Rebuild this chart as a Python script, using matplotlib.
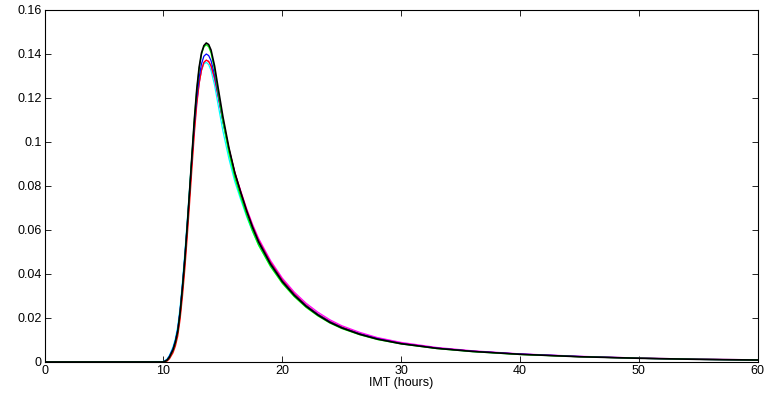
import matplotlib
matplotlib.use("Agg")
import matplotlib.pyplot as plt

x = [0, 10.0, 10.3, 10.5, 10.8, 11.0, 11.2, 11.4, 11.6, 11.8, 12.0, 12.2, 12.4, 12.6, 12.8,
     13.0, 13.2, 13.4, 13.6, 13.8, 14.0, 14.3, 14.6, 15.0, 15.5, 16.0, 16.5, 17.0, 17.5,
     18.0, 19.0, 20.0, 21.0, 22.0, 23.0, 24.0, 25.0, 26.5, 28.0, 30.0, 33.0, 36.0, 40.0,
     45.0, 50.0, 55.0, 60.0]

y_cyan = [0, 0.0002, 0.0013, 0.0030, 0.0068, 0.0106, 0.0162, 0.0250, 0.0368, 0.0500, 0.0645,
          0.0795, 0.0945, 0.1080, 0.1190, 0.1272, 0.1325, 0.1355, 0.1362, 0.1352, 0.1325,
          0.1258, 0.1168, 0.1050, 0.0925, 0.0820, 0.0738, 0.0660, 0.0592, 0.0532, 0.0437,
          0.0361, 0.0301, 0.0252, 0.0213, 0.0181, 0.0156, 0.0127, 0.0105, 0.0084, 0.0063,
          0.0048, 0.0035, 0.0024, 0.0017, 0.0012, 0.0009]
y_magenta = [0, 0, 0.0009, 0.0024, 0.0058, 0.0093, 0.0145, 0.0230, 0.0345, 0.0473, 0.0617,
             0.0768, 0.0920, 0.1063, 0.1180, 0.1268, 0.1328, 0.1362, 0.1372, 0.1367, 0.1346,
             0.1287, 0.1205, 0.1092, 0.0968, 0.0862, 0.0778, 0.0697, 0.0625, 0.0562, 0.0462,
             0.0381, 0.0318, 0.0267, 0.0226, 0.0192, 0.0165, 0.0135, 0.0111, 0.0089, 0.0066,
             0.0051, 0.0037, 0.0026, 0.0018, 0.0013, 0.0010]
y_red = [0, 0, 0.0004, 0.0014, 0.0042, 0.0072, 0.0118, 0.0195, 0.0300, 0.0425, 0.0570,
         0.0725, 0.0885, 0.1040, 0.1170, 0.1265, 0.1328, 0.1362, 0.1372, 0.1366, 0.1346,
         0.1290, 0.1210, 0.1098, 0.0972, 0.0862, 0.0775, 0.0692, 0.0618, 0.0554, 0.0454,
         0.0373, 0.0310, 0.0259, 0.0218, 0.0185, 0.0159, 0.0129, 0.0106, 0.0085, 0.0063,
         0.0049, 0.0035, 0.0024, 0.0017, 0.0012, 0.0009]
y_blue = [0, 0.0001, 0.0011, 0.0027, 0.0062, 0.0098, 0.0150, 0.0236, 0.0352, 0.0482, 0.0628,
          0.0782, 0.0938, 0.1085, 0.1205, 0.1295, 0.1356, 0.1390, 0.1400, 0.1393, 0.1370,
          0.1305, 0.1215, 0.1095, 0.0965, 0.0855, 0.0768, 0.0685, 0.0612, 0.0548, 0.0448,
          0.0368, 0.0306, 0.0256, 0.0216, 0.0183, 0.0157, 0.0128, 0.0106, 0.0084, 0.0063,
          0.0049, 0.0036, 0.0025, 0.0017, 0.0012, 0.0009]
y_green = [0, 0, 0.0008, 0.0022, 0.0055, 0.0090, 0.0140, 0.0226, 0.0342, 0.0473, 0.0623,
           0.0783, 0.0948, 0.1106, 0.1238, 0.1335, 0.1400, 0.1432, 0.1442, 0.1433, 0.1405,
           0.1328, 0.1225, 0.1092, 0.0952, 0.0838, 0.0750, 0.0667, 0.0594, 0.0531, 0.0434,
           0.0357, 0.0297, 0.0248, 0.0209, 0.0177, 0.0152, 0.0124, 0.0102, 0.0082, 0.0061,
           0.0047, 0.0034, 0.0024, 0.0017, 0.0012, 0.0009]
y_black = [0, 0, 0.0008, 0.0022, 0.0055, 0.0090, 0.0140, 0.0225, 0.0340, 0.0470, 0.0620,
           0.0780, 0.0945, 0.1105, 0.1240, 0.1340, 0.1405, 0.1438, 0.1450, 0.1443, 0.1418,
           0.1345, 0.1245, 0.1115, 0.0975, 0.0860, 0.0770, 0.0685, 0.0610, 0.0545, 0.0445,
           0.0365, 0.0303, 0.0253, 0.0213, 0.0180, 0.0155, 0.0126, 0.0104, 0.0083, 0.0062,
           0.0048, 0.0035, 0.0024, 0.0017, 0.0012, 0.0009]

series = [("#00ffff", y_cyan), ("#ff00ff", y_magenta), ("#ff0000", y_red),
          ("#0000ff", y_blue), ("#00ff00", y_green), ("#000000", y_black)]

xticks = [0, 10, 20, 30, 40, 50, 60]
yticks = [0, 0.02, 0.04, 0.06, 0.08, 0.1, 0.12, 0.14, 0.16]
ytick_labels = ["0", "0.02", "0.04", "0.06", "0.08", "0.1", "0.12", "0.14", "0.16"]

plt.rcParams['font.family'] = ['Liberation Sans', 'DejaVu Sans']

fig = plt.figure(figsize=(7.7, 4.0), dpi=100)
ax = fig.add_axes([0.058, 0.095, 0.926, 0.88])

for color, ys in series:
    lw = 1.2 if color == "#000000" else 0.9
    ax.plot(x, ys, color=color, linewidth=lw)

ax.set_xlim(0, 60)
ax.set_ylim(0, 0.16)
ax.set_xticks(xticks)
ax.set_xticklabels([str(t) for t in xticks])
ax.set_yticks(yticks)
ax.set_yticklabels(ytick_labels)
ax.tick_params(direction='in', top=True, right=True, labelsize=9, length=4, width=0.6, pad=2)
for s in ax.spines.values():
    s.set_linewidth(0.8)
ax.set_xlabel("IMT (hours)", fontsize=9, labelpad=0)

fig.savefig("out.png", dpi=100)
